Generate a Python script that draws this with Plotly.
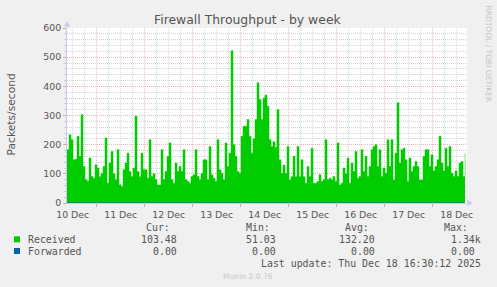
import plotly.graph_objects as go
import pandas as pd

# ---------------- data ----------------
start_time = "2025-12-10 09:09"
end_time = "2025-12-18 17:09"
sample_freq = "h"

# Received packets/second, one sample per hour
received = [
    183, 234, 217, 148, 150, 229, 160, 303, 125, 80,
    75, 154, 91, 85, 131, 120, 90, 101, 125, 223,
    68, 137, 177, 100, 80, 183, 62, 56, 114, 137,
    171, 108, 90, 120, 298, 108, 90, 171, 114, 114,
    85, 217, 91, 100, 80, 62, 62, 183, 80, 108,
    160, 206, 80, 68, 137, 108, 125, 108, 183, 80,
    74, 68, 91, 97, 183, 91, 80, 102, 148, 148,
    80, 194, 97, 85, 74, 217, 114, 102, 80, 206,
    125, 171, 522, 200, 160, 108, 102, 229, 263, 263,
    286, 229, 171, 220, 286, 412, 355, 286, 360, 370,
    332, 217, 194, 210, 190, 320, 148, 102, 130, 102,
    194, 79, 90, 160, 90, 194, 90, 148, 90, 68,
    125, 91, 188, 68, 68, 74, 97, 74, 80, 217,
    80, 85, 80, 91, 74, 206, 62, 68, 120, 100,
    154, 68, 137, 108, 177, 85, 91, 183, 108, 160,
    91, 125, 183, 194, 200, 125, 183, 91, 120, 102,
    217, 125, 217, 79, 171, 344, 137, 183, 188, 148,
    74, 154, 108, 125, 142, 125, 79, 79, 160, 183,
    183, 125, 165, 110, 125, 148, 229, 137, 110, 188,
    125, 194, 102, 91, 110, 91, 137, 142, 91, 171,
]
forwarded_times = ["2025-12-10 09:09", "2025-12-18 16:09"]
forwarded = [0.0, 0.0]

y_ticks = [0, 100, 200, 300, 400, 500, 600]

series_names = ["Received", "Forwarded"]
series_colors = ["#00CC00", "#0066B3"]
stat_headers = ["Cur:", "Min:", "Avg:", "Max:"]
stats_received = ["103.48", "51.03", "132.20", "1.34k"]
stats_forwarded = ["0.00", "0.00", "0.00", "0.00"]
title_text = "Firewall Throughput - by week"
y_title = "Packets/second"
last_update = "Last update: Thu Dec 18 16:30:12 2025"
footer = "Munin 2.0.76"
watermark = "RRDTOOL / TOBI OETIKER"

# ---------------- layout helpers ----------------
W, H = 497, 287
PL, PR, PT, PB = 67, 467, 28, 203  # plot area in pixels


def px(x):
    return (x - PL) / (PR - PL)


def py(y):
    return (PB - y) / (PB - PT)


times = pd.date_range(start_time, periods=len(received), freq=sample_freq)

fig = go.Figure()
fig.add_trace(go.Scatter(
    x=times, y=received, mode="lines", line=dict(shape="hv", width=0.5, color=series_colors[0]),
    fill="tozeroy", fillcolor=series_colors[0], showlegend=False, hoverinfo="skip"))
fig.add_trace(go.Scatter(
    x=pd.to_datetime(forwarded_times), y=forwarded, mode="lines",
    line=dict(width=1, color=series_colors[1]), showlegend=False, hoverinfo="skip"))

red_grid = "#F0B8B8"
gray_grid = "#D6D6D6"
axis_col = "#c3cbf2"
txt = "#555555"
sans = "DejaVu Sans"
mono = "DejaVu Sans Mono"

fig.update_layout(
    width=W, height=H,
    margin=dict(l=PL, r=W - PR, t=PT, b=H - PB, pad=0),
    paper_bgcolor="#F0F0F0", plot_bgcolor="#FFFFFF",
    font=dict(family=sans, color=txt),
    showlegend=False,
    xaxis=dict(
        type="date", range=[start_time, end_time],
        tick0="2025-12-11 00:00", dtick=86400000,
        ticklabelmode="period", tickformat="%d %b",
        tickfont=dict(family=sans, size=9.4, color=txt),
        ticks="outside", ticklen=3, tickcolor="#E8A0A0",
        showgrid=True, gridcolor=red_grid, griddash="1px,1px", gridwidth=1,
        minor=dict(dtick=21600000, tick0="2025-12-11 00:00", showgrid=True,
                   gridcolor=gray_grid, griddash="1px,1px", ticks=""),
        showline=True, linecolor=axis_col, linewidth=1, zeroline=False,
        fixedrange=True,
    ),
    yaxis=dict(
        range=[0, 600], tickvals=y_ticks,
        tickfont=dict(family=sans, size=9.4, color=txt),
        ticks="outside", ticklen=3, tickcolor="#E8A0A0",
        showgrid=True, gridcolor=red_grid, griddash="1px,1px", gridwidth=1,
        minor=dict(dtick=20, showgrid=True, gridcolor=gray_grid, griddash="1px,1px",
                   ticks="outside", ticklen=2, tickcolor="#cccccc"),
        showline=True, linecolor=axis_col, linewidth=1, zeroline=False,
        fixedrange=True,
    ),
)

ann = []
ann.append(dict(text=title_text, x=px(248), y=py(19), xref="paper", yref="paper",
                xanchor="center", yanchor="middle", showarrow=False,
                font=dict(family=sans, size=12.4, color=txt)))
ann.append(dict(text=y_title, x=px(10.5), y=py(115), xref="paper", yref="paper",
                xanchor="center", yanchor="middle", showarrow=False, textangle=-90,
                font=dict(family=sans, size=10.7, color=txt)))
ann.append(dict(text=watermark, x=px(488), y=py(53.5), xref="paper", yref="paper",
                xanchor="center", yanchor="middle", showarrow=False, textangle=90,
                font=dict(family=sans, size=7.5, color="#c4c4c4")))

# legend block
header_right = [172, 272, 371, 470]
value_right = [179, 278, 377, 477]
for h, xr in zip(stat_headers, header_right):
    ann.append(dict(text=h, x=px(xr), y=py(227.7), xref="paper", yref="paper",
                    xanchor="right", yanchor="middle", showarrow=False,
                    font=dict(family=mono, size=9.9, color=txt)))

rows_y = [239.3, 251.0]
shapes = []
for name, col, stats, ry in zip(series_names, series_colors,
                                [stats_received, stats_forwarded], rows_y):
    shapes.append(dict(type="rect", xref="paper", yref="paper",
                       x0=px(14), x1=px(20), y0=py(ry + 3), y1=py(ry - 3),
                       fillcolor=col, line=dict(width=0)))
    ann.append(dict(text=name, x=px(26), y=py(ry), xref="paper", yref="paper",
                    xanchor="left", yanchor="middle", showarrow=False,
                    font=dict(family=mono, size=9.9, color=txt)))
    for v, xr in zip(stats, value_right):
        extra = 6 if v[-1].isalpha() else 0
        ann.append(dict(text=v, x=px(xr + extra), y=py(ry), xref="paper", yref="paper",
                        xanchor="right", yanchor="middle", showarrow=False,
                        font=dict(family=mono, size=9.9, color=txt)))

ann.append(dict(text=last_update, x=px(482.5), y=py(263), xref="paper", yref="paper",
                xanchor="right", yanchor="middle", showarrow=False,
                font=dict(family=mono, size=9.9, color=txt)))
ann.append(dict(text=footer, x=px(248), y=py(276), xref="paper", yref="paper",
                xanchor="center", yanchor="middle", showarrow=False,
                font=dict(family=sans, size=7.6, color="#c8c8c8")))

# axis arrows
shapes.append(dict(type="path", xref="paper", yref="paper",
                   path=f"M {px(64)} {py(26.5)} L {px(70)} {py(26.5)} L {px(67)} {py(21)} Z",
                   fillcolor=axis_col, line=dict(width=0)))
shapes.append(dict(type="line", xref="paper", yref="paper",
                   x0=px(67), x1=px(67), y0=py(28), y1=py(26.5),
                   line=dict(color=axis_col, width=1)))
shapes.append(dict(type="path", xref="paper", yref="paper",
                   path=f"M {px(467.5)} {py(200)} L {px(467.5)} {py(206)} L {px(473)} {py(203)} Z",
                   fillcolor=axis_col, line=dict(width=0)))

fig.update_layout(annotations=ann, shapes=shapes)
fig.write_html("out.html")
